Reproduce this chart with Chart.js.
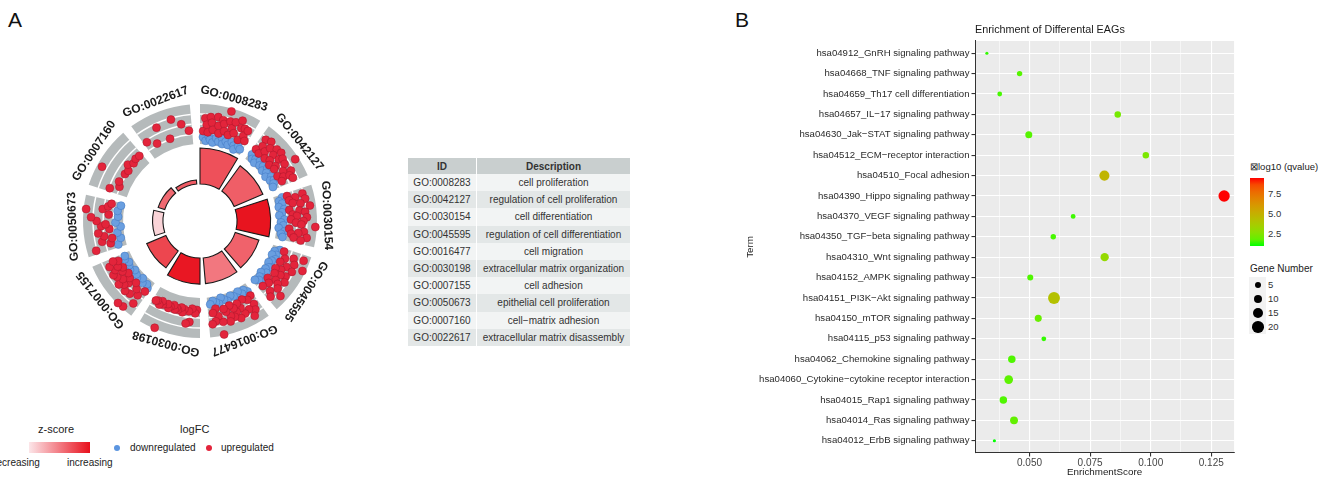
<!DOCTYPE html>
<html>
<head>
<meta charset="utf-8">
<script src="https://cdn.jsdelivr.net/npm/chart.js@4.4.1/dist/chart.umd.min.js"></script>
<style>
  body { margin: 0; background: #fff; font-family: 'Liberation Sans', Arial, sans-serif; }
  #wrap { position: relative; width: 1327px; height: 480px; overflow: hidden; }
  .abs { position: absolute; white-space: nowrap; }
  .panel { font-size: 21px; color: #111; }
  #goTable { border-collapse: collapse; font-size: 10px; color: #333; }
  #goTable th { height: 16px; background: #c9cfcf; font-weight: bold; padding: 0; }
  #goTable td { height: 17.2px; padding: 0; text-align: center; }
  #goTable th + th, #goTable td + td { border-left: 1px solid #fff; }
  #goTable tr:nth-child(odd) td { background: #e3e7e7; }
  #goTable tr:nth-child(even) td { background: #f2f4f4; }
  .dot { position: absolute; border-radius: 50%; }
  .lg { font-size: 10px; color: #222; }
</style>
</head>
<body>
<div id="wrap">
  <div class="abs panel" style="left:8px;top:8px">A</div>
  <div class="abs panel" style="left:735px;top:8px">B</div>

  <canvas id="chartA" class="abs" width="300" height="300" style="left:50px;top:71px"></canvas>
  <table id="goTable" class="abs" style="left:408px;top:158px"></table>

  <!-- legend of panel A -->
  <div class="abs" style="left:38px;top:423px;font-size:11px;color:#222">z-score</div>
  <div class="abs" id="zBar" style="left:29px;top:442px;width:61px;height:11px"></div>
  <div class="abs lg" style="left:-9px;top:457px">decreasing</div>
  <div class="abs lg" style="left:67px;top:457px">increasing</div>
  <div class="abs" style="left:180px;top:423px;font-size:11px;color:#222">logFC</div>
  <div class="dot" style="left:114px;top:445px;width:6px;height:6px;background:#5b95e0"></div>
  <div class="abs lg" style="left:130px;top:442px">downregulated</div>
  <div class="dot" style="left:206px;top:445px;width:6px;height:6px;background:#e3243b"></div>
  <div class="abs lg" style="left:221px;top:442px">upregulated</div>

  <canvas id="chartB" class="abs" width="500" height="480" style="left:740px;top:0"></canvas>

  <!-- legends of panel B -->
  <div class="abs" style="left:1250px;top:161px;font-size:9.5px;color:#222">&#8864;log10 (qvalue)</div>
  <div class="abs" id="qBar" style="left:1250px;top:178px;width:14px;height:68px"></div>
  <div id="qTicks"></div>
  <div class="abs" style="left:1250px;top:263px;font-size:10px;color:#222">Gene Number</div>
  <div class="abs" style="left:1249px;top:277px;width:17px;height:57px;background:#f2f2f2"></div>
  <div id="sizeKeys"></div>
</div>

<script>
// ---- panel A : GO circle ----
var goIds = ['GO:0008283', 'GO:0042127', 'GO:0030154', 'GO:0045595', 'GO:0016477',
             'GO:0030198', 'GO:0007155', 'GO:0050673', 'GO:0007160', 'GO:0022617'];
var goTerms = ['cell proliferation', 'regulation of cell proliferation', 'cell differentiation',
               'regulation of cell differentiation', 'cell migration', 'extracellular matrix organization',
               'cell adhesion', 'epithelial cell proliferation', 'cell\u2212matrix adhesion',
               'extracellular matrix disassembly'];
var goBarValues = [12.4, 10.8, 11.6, 8.6, 8.9, 9.0, 7.2, 3.6, 2.4, 1.4];   // -log10 adj. p
var goZScores = [4.2, 3.8, 5.9, 3.7, 3.1, 5.8, 4.5, 0.5, 3.5, 3.9];
var upLogFC = [
  [0.6, 3.2, 1.9, 0.4, 3.5, 2.4, 1.0, 3.7, 2.0, 0.5, 3.3, 2.6, 1.2, 5.4, 3.4, 0.7, 2.2, 3.6, 1.4, 4.4, 2.9, 0.5, 3.1, 1.7, 3.0, 0.9],
  [0.8, 3.5, 2.1, 0.5, 3.9, 1.6, 2.8, 0.6, 3.6, 2.3, 1.1, 3.8, 0.4, 2.6, 3.3, 1.3, 0.7, 3.0, 5.3, 2.0, 0.5, 3.4, 1.5, 2.7, 0.8, 3.1],
  [0.7, 3.8, 2.2, 0.9, 4.1, 1.5, 3.0, 4.8, 0.6, 2.6, 3.7, 1.2, 2.0, 4.0, 0.8, 3.3, 1.8, 2.9, 5.7, 0.5, 3.5, 2.4, 1.0, 4.2, 1.6, 3.1],
  [0.5, 4.8, 2.8, 1.2, 3.4, 5.4, 0.6, 2.2, 3.6, 1.5, 0.4, 3.0, 2.0, 0.8, 3.5, 1.8, 2.6, 0.3, 3.2, 1.1, 4.6, 2.4, 0.7, 3.3],
  [0.6, 2.4, 3.5, 1.0, 4.5, 2.8, 0.4, 3.2, 1.8, 0.7, 3.7, 2.2, 1.3, 3.0, 0.5, 2.6, 3.6, 1.5, 0.8, 3.3, 5.8, 2.0, 0.4, 2.9, 1.2, 3.4],
  [0.4, 1.1, 0.2, 2.9, 0.8, 3.3, 0.5, 1.2, 0.3, 0.9, 0.6, 1.0, 0.2, 0.7, 1.1, 0.4, 5.8, 0.9, 0.3, 1.2, 0.6, 0.8],
  [0.5, 3.8, 2.0, 5.6, 1.2, 2.8, 5.8, 0.4, 3.1, 1.6, 2.4, 0.7, 3.2, 1.9, 0.3, 2.6, 1.1, 3.0, 0.6, 2.2, 1.4, 2.9, 0.8, 1.8],
  [4.2, 1.0, 2.6, 0.5, 2.0, 3.1, 0.8, 2.4, 1.5, 3.3, 4.4, 0.9, 5.5, 2.2, 1.2, 0.6],
  [1.8, 0.1, 0.6, 5.0, 0.3, 0.1, 0.9, 0.2, 0.5, 0.4],
  [1.6, 0.3, 3.2, 0.1, 3.7, 2.3, 0.8]
];
var downLogFC = [
  [-0.6, -1.3, -0.4, -1.0, -1.5, -0.5, -1.1, -0.3, -1.4, -0.7, -1.2, -0.4, -0.9, -1.6, -0.6, -1.0],
  [-0.5, -1.2, -0.8, -1.5, -0.4, -1.1, -0.7, -1.4, -0.3, -1.0, -1.6, -0.6, -1.2, -0.5, -0.9, -1.3],
  [-0.3, -1.1, -0.6, -1.4, -0.4, -0.9, -1.5, -0.5, -1.2, -0.7, -1.6, -0.4, -1.0, -0.6],
  [-0.4, -1.3, -0.7, -1.5, -0.5, -1.0, -1.4, -0.3, -0.8, -1.2, -0.6, -1.5, -0.4, -1.1, -0.7, -1.3],
  [-0.4, -1.1, -0.6, -1.4, -0.3, -0.9, -1.3, -0.5, -1.0, -1.5, -0.4, -0.8, -1.2, -0.6],
  [],
  [-0.3, -0.9, -0.5, -1.2, -0.4, -0.8, -1.1, -0.3, -0.7, -1.0, -0.5, -0.8],
  [-0.4, -1.2, -0.7, -1.5, -0.5, -1.0, -0.8, -1.3],
  [],
  []
];
var lfcRange = [-2, 6];
var lfcLines = [0, 2, 4];
var zRange = [0, 6];

// ---- panel B : KEGG bubbles ----
var keggTerms = [
  'hsa04912_GnRH signaling pathway', 'hsa04668_TNF signaling pathway', 'hsa04659_Th17 cell differentiation',
  'hsa04657_IL\u221217 signaling pathway', 'hsa04630_Jak\u2212STAT signaling pathway', 'hsa04512_ECM\u2212receptor interaction',
  'hsa04510_Focal adhesion', 'hsa04390_Hippo signaling pathway', 'hsa04370_VEGF signaling pathway',
  'hsa04350_TGF\u2212beta signaling pathway', 'hsa04310_Wnt signaling pathway', 'hsa04152_AMPK signaling pathway',
  'hsa04151_PI3K\u2212Akt signaling pathway', 'hsa04150_mTOR signaling pathway', 'hsa04115_p53 signaling pathway',
  'hsa04062_Chemokine signaling pathway', 'hsa04060_Cytokine\u2212cytokine receptor interaction',
  'hsa04015_Rap1 signaling pathway', 'hsa04014_Ras signaling pathway', 'hsa04012_ErbB signaling pathway'
];
var keggScores = [0.0324, 0.0459, 0.0377, 0.0864, 0.0497, 0.0980, 0.0809, 0.1303, 0.0680, 0.0598,
                  0.0810, 0.0503, 0.0601, 0.0536, 0.0559, 0.0427, 0.0414, 0.0392, 0.0436, 0.0355];
var keggNegLogQ = [1.2, 1.6, 1.4, 2.2, 1.6, 2.3, 4.8, 9.5, 1.3, 1.4,
                   3.0, 1.5, 4.2, 1.9, 1.2, 1.5, 1.7, 1.5, 1.8, 1.0];
var keggGeneCounts = [1, 4, 3, 6, 7, 6, 15, 19, 3, 4, 10, 5, 21, 7, 3, 8, 11, 8, 9, 1];
var qRange = [1.0, 9.5];
var qTicks = [2.5, 5.0, 7.5];
var sizeBreaks = [5, 10, 15, 20];

var FONT = "'Liberation Sans', Arial, sans-serif";
var ARC = 31, GAP = 5, SLOTS = 360;

// colour helpers ---------------------------------------------------------
function toLab(c) {
  var lin = function (v) { v /= 255; return v <= 0.04045 ? v / 12.92 : Math.pow((v + 0.055) / 1.055, 2.4); };
  var R = lin(c[0]), G = lin(c[1]), B = lin(c[2]);
  var X = (0.4124 * R + 0.3576 * G + 0.1805 * B) / 0.95047;
  var Y = 0.2126 * R + 0.7152 * G + 0.0722 * B;
  var Z = (0.0193 * R + 0.1192 * G + 0.9505 * B) / 1.08883;
  var f = function (t) { return t > 0.008856 ? Math.cbrt(t) : 7.787 * t + 16 / 116; };
  return [116 * f(Y) - 16, 500 * (f(X) - f(Y)), 200 * (f(Y) - f(Z))];
}
function fromLab(l) {
  var fy = (l[0] + 16) / 116, fx = fy + l[1] / 500, fz = fy - l[2] / 200;
  var inv = function (t) { return t * t * t > 0.008856 ? t * t * t : (t - 16 / 116) / 7.787; };
  var X = inv(fx) * 0.95047, Y = inv(fy), Z = inv(fz) * 1.08883;
  var rgb = [3.2406 * X - 1.5372 * Y - 0.4986 * Z, -0.9689 * X + 1.8758 * Y + 0.0415 * Z, 0.0557 * X - 0.2040 * Y + 1.0570 * Z];
  return 'rgb(' + rgb.map(function (v) {
    v = v <= 0.0031308 ? 12.92 * v : 1.055 * Math.pow(Math.max(v, 0), 1 / 2.4) - 0.055;
    return Math.round(Math.max(0, Math.min(1, v)) * 255);
  }).join(',') + ')';
}
var LAB_LO = toLab([0, 255, 0]), LAB_HI = toLab([255, 0, 0]);
function qColor(v) {
  var t = Math.max(0, Math.min(1, (v - qRange[0]) / (qRange[1] - qRange[0])));
  return fromLab(LAB_LO.map(function (a, i) { return a + (LAB_HI[i] - a) * t; }));
}
var Z_LO = [252, 230, 233], Z_HI = [232, 16, 28];
function zColor(z) {
  var t = Math.max(0, Math.min(1, (z - zRange[0]) / (zRange[1] - zRange[0])));
  return 'rgb(' + Z_LO.map(function (a, i) { return Math.round(a + (Z_HI[i] - a) * t); }).join(',') + ')';
}
function sizeOf(n) { return Math.sqrt(0.8 + 1.64 * n); }

// a polar-area variant whose arcs start at dataset.base instead of the centre
class RingController extends Chart.PolarAreaController {
  updateElement(el, i, props, mode) {
    if (props && i !== undefined) {
      props.innerRadius = this._cachedMeta.rScale.getDistanceFromCenterForValue(this.getDataset().base);
    }
    super.updateElement(el, i, props, mode);
  }
}
RingController.id = 'ring';
Chart.register(RingController);

function ring(axis, base, values, fill, border) {
  return {
    type: 'ring', rAxisID: axis, base: base,
    data: values.reduce(function (a, v) { a.push(v, base); return a; }, []),   // term, gap, term, gap...
    backgroundColor: function (c) {
      if (c.dataIndex % 2) return 'rgba(0,0,0,0)';
      return typeof fill === 'function' ? fill(c.dataIndex / 2) : fill;
    },
    borderColor: border || 'rgba(0,0,0,0)',
    borderWidth: function (c) { return (c.dataIndex % 2 || !border) ? 0 : 1.1; },
    borderJoinStyle: 'miter',
    angle: function (c) { return c.dataIndex % 2 ? GAP : ARC; }
  };
}

// genes of each term spread over the angular slots of that term
function slotSeries(groups) {
  var out = new Array(SLOTS).fill(null);
  groups.forEach(function (vals, k) {
    var n = vals.length;
    vals.forEach(function (v, j) {
      var s = n > 1 ? Math.round(j * 27 / (n - 1)) : 13;
      out[k * (ARC + GAP) + 2 + s] = v;
    });
  });
  return out;
}
function genes(data, fill, border) {
  return {
    type: 'radar', rAxisID: 'lfc', data: data, showLine: false, fill: false,
    pointRadius: 4, pointBackgroundColor: fill, pointBorderColor: border, pointBorderWidth: 0.5
  };
}

var goLabels = {
  id: 'goLabels',
  afterDatasetsDraw: function (chart) {
    var s = chart.scales.lfc, ctx = chart.ctx;
    var r = s.getDistanceFromCenterForValue(lfcRange[1]) + 10;
    ctx.save();
    ctx.fillStyle = '#1a1a1a';
    ctx.font = 'bold 12px ' + FONT;
    ctx.textAlign = 'center';
    ctx.textBaseline = 'middle';
    goIds.forEach(function (id, k) {
      var a = (k * (ARC + GAP) + ARC / 2) * Math.PI / 180;
      ctx.save();
      ctx.translate(s.xCenter + r * Math.sin(a), s.yCenter - r * Math.cos(a));
      ctx.rotate(a);
      ctx.fillText(id, 0, 0);
      ctx.restore();
    });
    ctx.restore();
  }
};

var trackDs = [ring('lfc', lfcRange[0], goIds.map(function () { return lfcRange[1]; }), '#b5babb')];
var lineDs = lfcLines.map(function (L) {
  return ring('lfc', L - 0.15, goIds.map(function () { return L + 0.15; }), '#ffffff');
});

new Chart(document.getElementById('chartA'), {
  type: 'radar',
  data: {
    labels: new Array(SLOTS).fill(''),
    datasets: [
      genes(slotSeries(upLogFC), '#e3243b', '#a8162a'),
      genes(slotSeries(downLogFC), '#6a9fe0', '#3f74c0')
    ].concat(lineDs, trackDs, [
      ring('r', 0, goBarValues, function (k) { return zColor(goZScores[k]); }, '#1a1a1a')
    ])
  },
  options: {
    responsive: false, animation: false, events: [], devicePixelRatio: 1,
    layout: { padding: 0 },
    plugins: { legend: { display: false }, tooltip: { enabled: false } },
    scales: {
      r: { type: 'radialLinear', display: false, min: -12.8, max: 39.0, startAngle: 0 },
      lfc: { type: 'radialLinear', axis: 'r', display: false, min: -17.4, max: 12.6, startAngle: 0 }
    }
  },
  plugins: [goLabels]
});

// GO table
var tbl = document.getElementById('goTable');
tbl.innerHTML = '<tr><th style="width:68px">ID</th><th style="width:153px">Description</th></tr>' +
  goIds.map(function (id, i) { return '<tr><td>' + id + '</td><td>' + goTerms[i] + '</td></tr>'; }).join('');

document.getElementById('zBar').style.background =
  'linear-gradient(to right,' + zColor(zRange[0]) + ',' + zColor(zRange[1]) + ')';

// ---- panel B ----
function isMajor(v) { return Math.abs(v * 40 - Math.round(v * 40)) < 1e-6; }

var panelBg = {
  id: 'panelBg',
  beforeDraw: function (chart) {
    var a = chart.chartArea, ctx = chart.ctx;
    ctx.save();
    ctx.fillStyle = '#ebebeb';
    ctx.fillRect(a.left, a.top, a.right - a.left, a.bottom - a.top);
    ctx.restore();
  }
};

new Chart(document.getElementById('chartB'), {
  type: 'bubble',
  data: {
    datasets: [{
      data: keggTerms.map(function (t, i) { return { x: keggScores[i], y: i, r: sizeOf(keggGeneCounts[i]) }; }),
      backgroundColor: keggNegLogQ.map(qColor),
      borderWidth: 0
    }]
  },
  options: {
    responsive: false, animation: false, events: [], devicePixelRatio: 1,
    layout: { padding: { right: 4 } },
    plugins: {
      legend: { display: false }, tooltip: { enabled: false },
      title: {
        display: true, text: 'Enrichment of Differental EAGs', align: 'start', fullSize: false,
        color: '#1a1a1a', font: { family: FONT, size: 10.8, weight: 'normal' }, padding: { top: 24, bottom: 4 }
      }
    },
    scales: {
      x: {
        type: 'linear', min: 0.0275, max: 0.1344,
        afterFit: function (s) { s.height = 27; },
        ticks: {
          stepSize: 0.0125, includeBounds: false, autoSkip: false, maxRotation: 0, padding: 1,
          color: '#444', font: { family: FONT, size: 10 },
          callback: function (v) { return isMajor(v) ? v.toFixed(3) : ''; }
        },
        grid: {
          color: '#ffffff',
          lineWidth: function (c) { return c.tick && isMajor(c.tick.value) ? 1.1 : 0.55; },
          tickColor: function (c) { return c.tick && isMajor(c.tick.value) ? '#333' : 'rgba(0,0,0,0)'; },
          tickLength: 3.5
        },
        border: { display: true, color: '#333', width: 1 },
        title: { display: true, text: 'EnrichmentScore', color: '#1a1a1a', font: { family: FONT, size: 9.8 }, padding: { top: 0, bottom: 2 } }
      },
      y: {
        type: 'linear', reverse: true, min: -0.6, max: 19.6,
        afterFit: function (s) { s.width = 235; },
        ticks: {
          stepSize: 1, includeBounds: false, autoSkip: false, padding: 2,
          color: '#2a2a2a', font: { family: FONT, size: 9.6 },
          callback: function (v) { return keggTerms[v]; }
        },
        grid: { color: '#ffffff', lineWidth: 1.1, tickColor: '#333', tickLength: 3.5 },
        border: { display: true, color: '#333', width: 1 },
        title: { display: true, text: 'Term', color: '#1a1a1a', font: { family: FONT, size: 9.8 }, padding: { top: 4, bottom: 0 } }
      }
    }
  },
  plugins: [panelBg]
});

// colour bar legend
var stops = [];
for (var i = 0; i <= 10; i++) stops.push(qColor(qRange[1] - (qRange[1] - qRange[0]) * i / 10));
document.getElementById('qBar').style.background = 'linear-gradient(to bottom,' + stops.join(',') + ')';
document.getElementById('qTicks').innerHTML = qTicks.map(function (v) {
  var y = 178 + (qRange[1] - v) / (qRange[1] - qRange[0]) * 68;
  return '<div class="abs" style="left:1268px;top:' + (y - 6) + 'px;font-size:9.5px;color:#333">' + v.toFixed(1) + '</div>';
}).join('');

// gene number legend
document.getElementById('sizeKeys').innerHTML = sizeBreaks.map(function (n, i) {
  var r = sizeOf(n), cy = 285 + i * 14;
  return '<div class="dot" style="left:' + (1258 - r) + 'px;top:' + (cy - r) + 'px;width:' + (2 * r) + 'px;height:' + (2 * r) +
    'px;background:#000"></div><div class="abs" style="left:1268px;top:' + (cy - 6) + 'px;font-size:9.5px;color:#333">' + n + '</div>';
}).join('');
</script>
</body>
</html>
